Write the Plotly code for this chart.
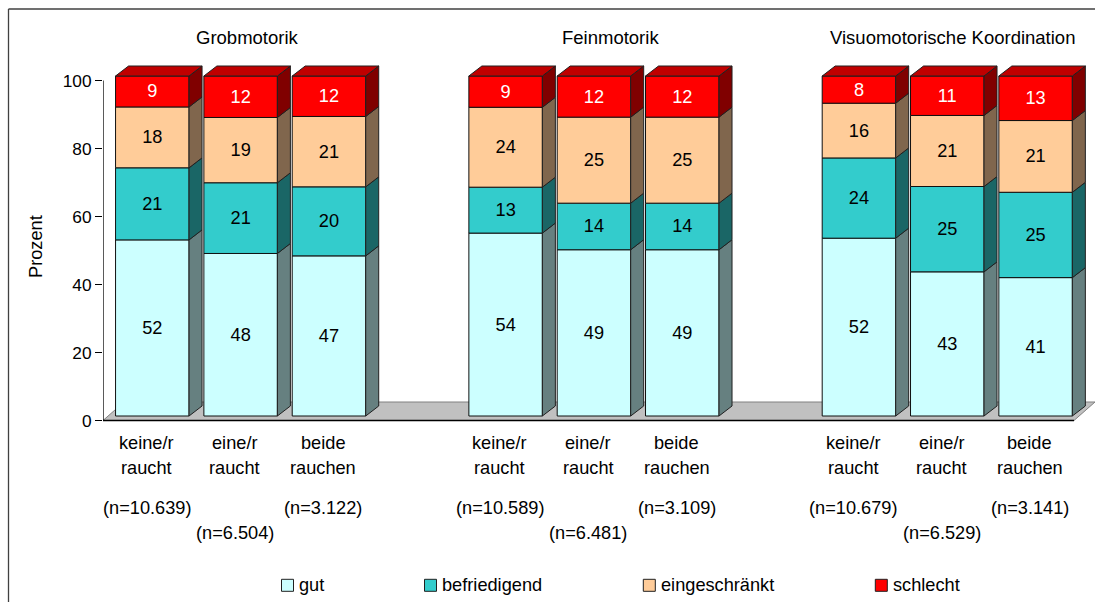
import numpy as np
import plotly.graph_objects as go

# ---- data ----
slots = [0, 1, 2, 4, 5, 6, 8, 9, 10]
gut = [51.8, 47.8, 47.1, 53.8, 48.9, 48.9, 52.3, 42.4, 40.7]
befriedigend = [21.2, 20.8, 20.3, 13.5, 13.7, 13.7, 23.6, 25.1, 25.1]
eingeschraenkt = [17.9, 19.2, 20.7, 23.5, 25.3, 25.3, 16.1, 20.9, 21.1]
schlecht = [9.1, 12.2, 11.9, 9.2, 12.1, 12.1, 8.0, 11.6, 13.1]
gut_labels = [52, 48, 47, 54, 49, 49, 52, 43, 41]
bef_labels = [21, 21, 20, 13, 14, 14, 24, 25, 25]
ein_labels = [18, 19, 21, 24, 25, 25, 16, 21, 21]
sch_labels = [9, 12, 12, 9, 12, 12, 8, 11, 13]
groups = ["Grobmotorik", "Feinmotorik", "Visuomotorische Koordination"]
cat_line1 = ["keine/r", "eine/r", "beide"] * 3
cat_line2 = ["raucht", "raucht", "rauchen"] * 3
n_labels = ["(n=10.639)", "(n=6.504)", "(n=3.122)",
            "(n=10.589)", "(n=6.481)", "(n=3.109)",
            "(n=10.679)", "(n=6.529)", "(n=3.141)"]
series_names = ["gut", "befriedigend", "eingeschränkt", "schlecht"]

# ---- style ----
FRONT = ["#CCFFFF", "#33CCCC", "#FFCC99", "#FF0000"]
SIDE = ["#668080", "#1A6666", "#80664D", "#800000"]
TOP = "#C00000"
TEXTCOL = ["black", "black", "black", "white"]
FONT = "Liberation Sans"
FS = 18.2
W, H = 1095, 602
PX_LEFT, PX_RIGHT, PX_TOP, PX_BOTTOM = 103, 1095, 10, 602
PX_ZERO = 420.5
PX_PER_SLOT = 88.33
PX_PER_UNIT = 3.4
X0_PX = 152.3
LABEL_SHIFT = 5.7 / PX_PER_SLOT
dxs = 13 / PX_PER_SLOT
dys = 10 / PX_PER_UNIT
BAR_W = 73.5 / PX_PER_SLOT
LIFT = 4.5 / PX_PER_UNIT


def xs(p):
    return (p - X0_PX) / PX_PER_SLOT


def ys(p):
    return (PX_ZERO - p) / PX_PER_UNIT


xr = [xs(PX_LEFT), xs(PX_RIGHT)]
yr = [ys(PX_BOTTOM), ys(PX_TOP)]

fig = go.Figure()

values = [gut, befriedigend, eingeschraenkt, schlecht]
labels = [gut_labels, bef_labels, ein_labels, sch_labels]
base = np.full(len(slots), LIFT)
x = np.array(slots, dtype=float)
for i, name in enumerate(series_names):
    v = np.array(values[i])
    top = base + v
    sx, sy = [], []
    for xi, b, t in zip(x, base, top):
        r = xi + BAR_W / 2
        sx += [r, r + dxs, r + dxs, r, r, None]
        sy += [b, b + dys, t + dys, t, b, None]
    fig.add_trace(go.Scatter(
        x=sx, y=sy, mode="lines", fill="toself", fillcolor=SIDE[i],
        line=dict(color="#202020", width=1), hoverinfo="skip", showlegend=False))
    fig.add_trace(go.Bar(
        x=x, y=v, base=base, width=BAR_W, name=name,
        marker=dict(color=FRONT[i], line=dict(color="#101010", width=1)),
        text=[str(t) for t in labels[i]], textposition="inside",
        insidetextanchor="middle", textangle=0, constraintext="none",
        textfont=dict(family=FONT, size=FS, color=TEXTCOL[i]),
        showlegend=False))
    if i == 3:
        tx, ty = [], []
        for xi, t in zip(x, top):
            l, r = xi - BAR_W / 2, xi + BAR_W / 2
            tx += [l, l + dxs, r + dxs, r, l, None]
            ty += [t, t + dys, t + dys, t, t, None]
        fig.add_trace(go.Scatter(
            x=tx, y=ty, mode="lines", fill="toself", fillcolor=TOP,
            line=dict(color="#202020", width=1), hoverinfo="skip", showlegend=False))
    base = top

# y axis line
fig.add_trace(go.Scatter(
    x=[xr[0], xr[0]], y=[0, 100], mode="lines", cliponaxis=False,
    line=dict(color="black", width=1.3), hoverinfo="skip", showlegend=False))

# legend row
leg_px = [287.5, 430.5, 649.3, 881.3]
fig.add_trace(go.Scatter(
    x=[xs(p) for p in leg_px], y=[ys(585.3)] * 4, mode="markers",
    marker=dict(symbol="square", size=12, color=FRONT, line=dict(color="#202020", width=1)),
    hoverinfo="skip", showlegend=False))

ann = []
for gname, px in zip(groups, [247, 610, 952.5]):
    ann.append(dict(x=xs(px), y=ys(37), xref="x", yref="y", text=gname, showarrow=False,
                    font=dict(family=FONT, size=18.5, color="black"), xanchor="center", yanchor="middle"))
for k, xi in enumerate(slots):
    for txt, p in ((cat_line1[k], 443), (cat_line2[k], 468),
                   (n_labels[k], 533 if k % 3 == 1 else 508)):
        ann.append(dict(x=xi - LABEL_SHIFT, y=ys(p), xref="x", yref="y", text=txt, showarrow=False,
                        font=dict(family=FONT, size=FS, color="black"),
                        xanchor="center", yanchor="middle"))
for name, p in zip(series_names, leg_px):
    ann.append(dict(x=xs(p + 9.5), y=ys(585), xref="x", yref="y", text=name, showarrow=False,
                    font=dict(family=FONT, size=FS, color="black"),
                    xanchor="left", yanchor="middle"))

px_fx = lambda p: (p - PX_LEFT) / (PX_RIGHT - PX_LEFT)
px_fy = lambda p: (PX_BOTTOM - p) / (PX_BOTTOM - PX_TOP)
ann.append(dict(x=px_fx(36), y=px_fy(247), xref="paper", yref="paper", text="Prozent", showarrow=False,
                textangle=-90, font=dict(family=FONT, size=FS, color="black"),
                xanchor="center", yanchor="middle"))

frame = dict(type="line", xref="paper", yref="paper", layer="above",
             line=dict(color="#404040", width=1.3))
shapes = [
    dict(frame, x0=px_fx(8.5), x1=1, y0=px_fy(9), y1=px_fy(9)),
    dict(frame, x0=px_fx(8.5), x1=px_fx(8.5), y0=0, y1=px_fy(9)),
    # floor of the 3-D box
    dict(type="path", xref="x", yref="y", layer="below",
         path=f"M{xs(103)},{ys(PX_ZERO)} L{xs(1074)},{ys(PX_ZERO)} L{xs(1095)},{ys(402)} L{xs(124)},{ys(402)} Z",
         fillcolor="#C0C0C0", line=dict(color="#808080", width=1)),
    dict(type="line", xref="x", yref="y", layer="below",
         x0=xs(96), x1=xs(1074), y0=ys(PX_ZERO), y1=ys(PX_ZERO),
         line=dict(color="black", width=1.3)),
]

fig.update_layout(
    width=W, height=H, autosize=False,
    margin=dict(l=PX_LEFT, r=W - PX_RIGHT, t=PX_TOP, b=H - PX_BOTTOM, pad=0),
    paper_bgcolor="white", plot_bgcolor="white",
    barmode="overlay", showlegend=False,
    font=dict(family=FONT, size=FS, color="black"),
    annotations=ann, shapes=shapes,
    xaxis=dict(range=xr, showgrid=False, zeroline=False, showline=False,
               ticks="", showticklabels=False, fixedrange=True),
    yaxis=dict(range=yr, tickmode="array", tickvals=[0, 20, 40, 60, 80, 100],
               ticks="outside", ticklen=7, tickwidth=1, tickcolor="black",
               showgrid=False, zeroline=False, showline=False,
               tickfont=dict(family=FONT, size=17.3, color="black"),
               fixedrange=True),
)

fig.write_html("out.html", config={"displayModeBar": False},
               post_script="document.body.style.margin='0';document.documentElement.style.overflow='hidden';")
